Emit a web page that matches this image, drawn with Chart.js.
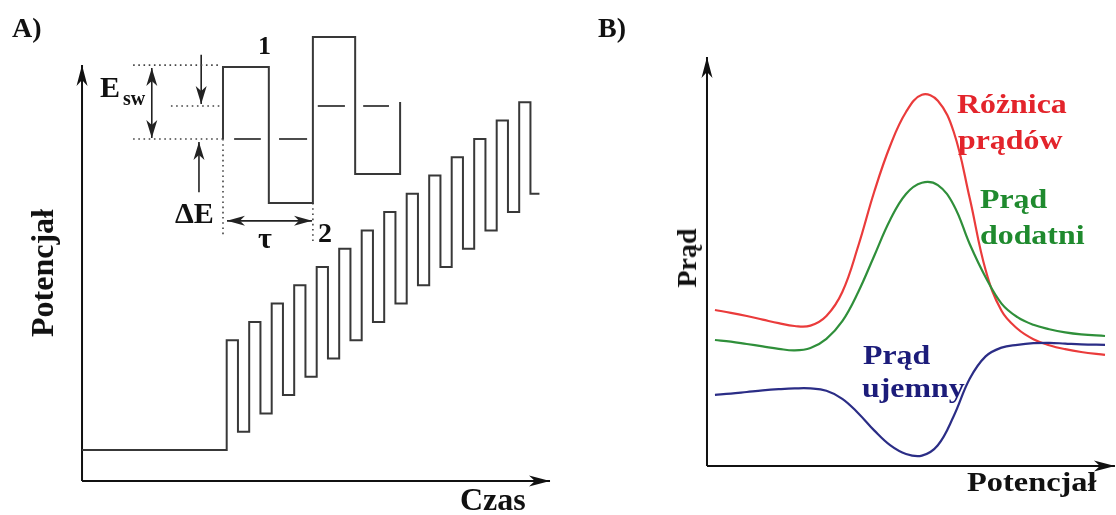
<!DOCTYPE html>
<html><head><meta charset="utf-8">
<script src="https://cdn.jsdelivr.net/npm/chart.js@4.4.1/dist/chart.umd.min.js"></script>
<style>
html,body{margin:0;padding:0;background:#fff;}
#wrap{position:relative;width:1116px;height:515px;overflow:hidden;background:#fff;}
canvas{position:absolute;top:0;}
#cA{left:0;} #cB{left:560px;}
.lbl{position:absolute;white-space:nowrap;font-family:"Liberation Serif","Times New Roman",serif;font-weight:bold;line-height:1;transform-origin:0 0;color:#111;}
</style></head><body>
<div id="wrap">
<canvas id="cA" width="560" height="515"></canvas>
<canvas id="cB" width="556" height="515"></canvas>
</div>
<script>
// ================= Panel A: staircase square-wave potential =================
// time in half-periods (tau), potential in units of the step dE
const pulseUpTime   = [0, 2, 4, 6, 8, 10, 12, 14, 16, 18, 20, 22, 24, 26];
const pulseDownTime = [1, 3, 5, 7, 9, 11, 13, 15, 17, 19, 21, 23, 25, 27];
const pulseTop      = [6, 7, 8, 9, 10, 11, 12, 13, 14, 15, 16, 17, 18, 19];
const pulseBottom   = [1, 2, 3, 4, 5, 6, 7, 8, 9, 10, 11, 12, 13, 14];
const baselineStartTime = -12.86;
const baselineLevel     = 0;
const waveEndTime       = 27.8;
const axisATime  = [-12.86, 28.74];
const axisALevel = [-1.69, 21.04];

// enlarged inset (time in tau, potential in dE)
const insetEdgeTime = [0, 1.03, 2.02, 2.97, 3.98];
const insetLevels   = [0, 2.18, -1.94, 3.09, -1.06, 1.12];
const midDashStart  = [0.25, 1.26, 2.13, 3.15];
const midDashEnd    = [0.85, 1.89, 2.74, 3.73];
const midDashLevel  = [0, 0, 1.0, 1.0];
const hGuideLevel = [2.24, 1.0, 0];
const hGuideFrom  = [-2.02, -1.17, -2.02];
const hGuideTo    = [-0.11, -0.02, -0.02];
const vGuideTime  = [0, 2.02];
const vGuideFrom  = [0, -1.94];
const vGuideTo    = [-2.91, -3.12];
// vertical arrows: E_sw (double), dE from above, dE from below
const vArrowTime  = [-1.6, -0.49, -0.54];
const vArrowFrom  = [2.15, 2.55, -1.61];
const vArrowTo    = [0.03, 1.06, -0.09];
const vArrowBoth  = [true, false, false];
// tau arrow
const tauArrowTime  = [0.09, 2.0];
const tauArrowLevel = -2.48;

// ================= Panel B: current vs potential =================
const potential      = [2, 6, 10, 14, 18, 22, 26, 30, 34, 38, 42, 46, 50, 54, 58, 62, 66, 70, 74, 78, 82, 86, 90, 94, 100];
const diffCurrent    = [39, 38.3, 37.5, 36.6, 35.7, 35, 35.1, 37.5, 43.5, 55, 68.5, 80, 88.5, 92.8, 91.3, 83.5, 67, 49, 38.8, 34.3, 31.7, 30.2, 29.2, 28.5, 27.8];
const forwardCurrent = [31.5, 31.1, 30.5, 29.9, 29.3, 28.9, 29.5, 31.8, 36.2, 43.5, 52.5, 61.5, 68, 70.8, 70.2, 65.2, 55.5, 47.2, 40.6, 37.2, 35.3, 34.2, 33.4, 32.9, 32.5];
const reverseCurrent = [17.8, 18.1, 18.5, 18.9, 19.2, 19.4, 19.4, 18.8, 16.8, 13.2, 8.9, 5.2, 3, 2.6, 5.2, 12.5, 21.8, 27.4, 29.6, 30.3, 30.7, 30.8, 30.6, 30.4, 30.3];
const axisBPotential = [0, 102.5];
const axisBCurrent   = [0, 102.25];

// ---------------- helpers ----------------
const zip = (xs, ys) => xs.map((x, i) => ({x, y: ys[i]}));

const arrowPlugin = {
  id: 'arrowHeads',
  afterDatasetsDraw(chart) {
    const ctx = chart.ctx;
    chart.data.datasets.forEach((ds, i) => {
      const ah = ds.arrowHeads;
      if (!ah) return;
      const pts = chart.getDatasetMeta(i).data;
      const n = pts.length;
      const head = (tip, from) => {
        const a = Math.atan2(tip.y - from.y, tip.x - from.x);
        ctx.save();
        ctx.translate(tip.x, tip.y);
        ctx.rotate(a);
        ctx.beginPath();
        ctx.moveTo(0, 0);
        ctx.lineTo(-ah.length, -ah.width / 2);
        ctx.lineTo(-ah.length * 0.72, 0);
        ctx.lineTo(-ah.length, ah.width / 2);
        ctx.closePath();
        ctx.fillStyle = ah.color || ds.borderColor;
        ctx.fill();
        ctx.restore();
      };
      if (ah.end) head(pts[n - 1], pts[n - 2]);
      if (ah.start) head(pts[0], pts[1]);
    });
  }
};

const lineDs = (data, extra) => Object.assign({
  data, showLine: true, pointRadius: 0, pointHoverRadius: 0,
  borderColor: '#333', borderWidth: 2, tension: 0, fill: false, clip: false
}, extra || {});

// ---------------- Panel A datasets ----------------
const stairPts = [{x: baselineStartTime, y: baselineLevel}];
pulseUpTime.forEach((t, i) => {
  stairPts.push({x: t, y: pulseTop[i]});
  stairPts.push({x: pulseDownTime[i], y: pulseBottom[i]});
});
stairPts.push({x: waveEndTime, y: pulseBottom[pulseBottom.length - 1]});

const insetPts = [{x: insetEdgeTime[0], y: insetLevels[0]}];
insetEdgeTime.forEach((t, i) => insetPts.push({x: t, y: insetLevels[i + 1]}));

const dsA = [];
dsA.push(lineDs(stairPts, {stepped: 'before', borderColor: '#383838'}));
dsA.push(lineDs(insetPts, {stepped: 'before', borderColor: '#383838', xAxisID: 'xi', yAxisID: 'yi'}));
// mid-level short dashes
midDashStart.forEach((s, i) => dsA.push(lineDs([{x: s, y: midDashLevel[i]}, {x: midDashEnd[i], y: midDashLevel[i]}],
  {borderColor: '#383838', borderWidth: 1.8, xAxisID: 'xi', yAxisID: 'yi'})));
// dotted guides
hGuideLevel.forEach((l, i) => dsA.push(lineDs([{x: hGuideFrom[i], y: l}, {x: hGuideTo[i], y: l}],
  {borderColor: '#444', borderWidth: 1.6, borderDash: [1.6, 3.6], xAxisID: 'xi', yAxisID: 'yi'})));
vGuideTime.forEach((t, i) => dsA.push(lineDs([{x: t, y: vGuideFrom[i]}, {x: t, y: vGuideTo[i]}],
  {borderColor: '#444', borderWidth: 1.6, borderDash: [1.6, 3.6], xAxisID: 'xi', yAxisID: 'yi'})));
// arrows
vArrowTime.forEach((t, i) => dsA.push(lineDs([{x: t, y: vArrowFrom[i]}, {x: t, y: vArrowTo[i]}],
  {borderColor: '#222', borderWidth: 1.6, xAxisID: 'xi', yAxisID: 'yi',
   arrowHeads: {end: true, start: vArrowBoth[i], length: 18, width: 11}})));
dsA.push(lineDs([{x: tauArrowTime[0], y: tauArrowLevel}, {x: tauArrowTime[1], y: tauArrowLevel}],
  {borderColor: '#222', borderWidth: 1.6, xAxisID: 'xi', yAxisID: 'yi',
   arrowHeads: {end: true, start: true, length: 18, width: 10}}));
// axes
dsA.push(lineDs([{x: axisATime[0], y: axisALevel[0]}, {x: axisATime[1], y: axisALevel[0]}],
  {borderColor: '#111', borderWidth: 2, arrowHeads: {end: true, length: 21, width: 11}}));
dsA.push(lineDs([{x: axisATime[0], y: axisALevel[0]}, {x: axisATime[0], y: axisALevel[1]}],
  {borderColor: '#111', borderWidth: 2, arrowHeads: {end: true, length: 21, width: 11}}));

const commonOpts = {
  responsive: false, animation: false, devicePixelRatio: 1,
  layout: {autoPadding: false, padding: 0},
  plugins: {legend: {display: false}, tooltip: {enabled: false}},
  events: []
};

new Chart(document.getElementById('cA'), {
  type: 'scatter',
  data: {datasets: dsA},
  options: Object.assign({}, commonOpts, {
    scales: {
      x:  {type: 'linear', display: false, min: -20.151, max: 29.627},
      y:  {type: 'linear', display: false, min: -3.552, max: 24.590},
      xi: {type: 'linear', axis: 'x', display: false, min: -5.011, max: 7.573},
      yi: {type: 'linear', axis: 'y', display: false, min: -11.394, max: 4.212}
    }
  }),
  plugins: [arrowPlugin]
});

// ---------------- Panel B datasets ----------------
const curveDs = (vals, color) => lineDs(zip(potential, vals),
  {borderColor: color, borderWidth: 2.2, tension: 0.4});
const dsB = [
  curveDs(forwardCurrent, '#2f8f3a'),
  curveDs(reverseCurrent, '#2b2d86'),
  curveDs(diffCurrent, '#ea3b3b'),
  lineDs([{x: axisBPotential[0], y: axisBCurrent[0]}, {x: axisBPotential[1], y: axisBCurrent[0]}],
    {borderColor: '#111', borderWidth: 2, arrowHeads: {end: true, length: 21, width: 11}}),
  lineDs([{x: axisBPotential[0], y: axisBCurrent[0]}, {x: axisBPotential[0], y: axisBCurrent[1]}],
    {borderColor: '#111', borderWidth: 2, arrowHeads: {end: true, length: 21, width: 11}})
];

new Chart(document.getElementById('cB'), {
  type: 'scatter',
  data: {datasets: dsB},
  options: Object.assign({}, commonOpts, {
    scales: {
      x: {type: 'linear', display: false, min: -36.93, max: 102.76},
      y: {type: 'linear', display: false, min: -12.25, max: 116.5}
    }
  }),
  plugins: [arrowPlugin]
});

// ---------------- text labels ----------------
const wrap = document.getElementById('wrap');
function label(text, x, baseline, fs, color, sx) {
  const d = document.createElement('div');
  d.className = 'lbl';
  d.textContent = text;
  d.style.left = x + 'px';
  d.style.top = (baseline - 0.8375 * fs) + 'px';
  d.style.fontSize = fs + 'px';
  if (color) d.style.color = color;
  if (sx) d.style.transform = 'scaleX(' + sx + ')';
  wrap.appendChild(d);
}
function vlabel(text, cx, cy, fs, color) {
  const d = document.createElement('div');
  d.className = 'lbl';
  d.textContent = text;
  d.style.left = cx + 'px';
  d.style.top = cy + 'px';
  d.style.fontSize = fs + 'px';
  d.style.transformOrigin = '50% 50%';
  d.style.transform = 'translate(-50%,-50%) rotate(-90deg)';
  if (color) d.style.color = color;
  wrap.appendChild(d);
}
// Panel A
label('A)', 12, 37, 28);
label('Czas', 460, 510, 32);
vlabel('Potencjał', 42, 273, 32);
label('E', 100, 97, 30);
label('sw', 123, 105, 20);
label('ΔE', 175, 223, 30);
label('1', 258, 55, 26);
label('2', 318, 242, 28);
label('τ', 258, 248, 30);
// Panel B
label('B)', 598, 37, 28);
label('Różnica', 957, 114, 27, '#e3242b', 1.18);
label('prądów', 958, 150, 27, '#e3242b', 1.18);
label('Prąd', 980, 209, 27, '#1f8a2e', 1.18);
label('dodatni', 980, 245, 27, '#1f8a2e', 1.18);
label('Prąd', 863, 365, 27, '#1c1c7a', 1.18);
label('ujemny', 862, 398, 27, '#1c1c7a', 1.18);
vlabel('Prąd', 687, 258, 28);
label('Potencjał', 967, 492, 27, '#111', 1.2);
</script>
</body></html>
